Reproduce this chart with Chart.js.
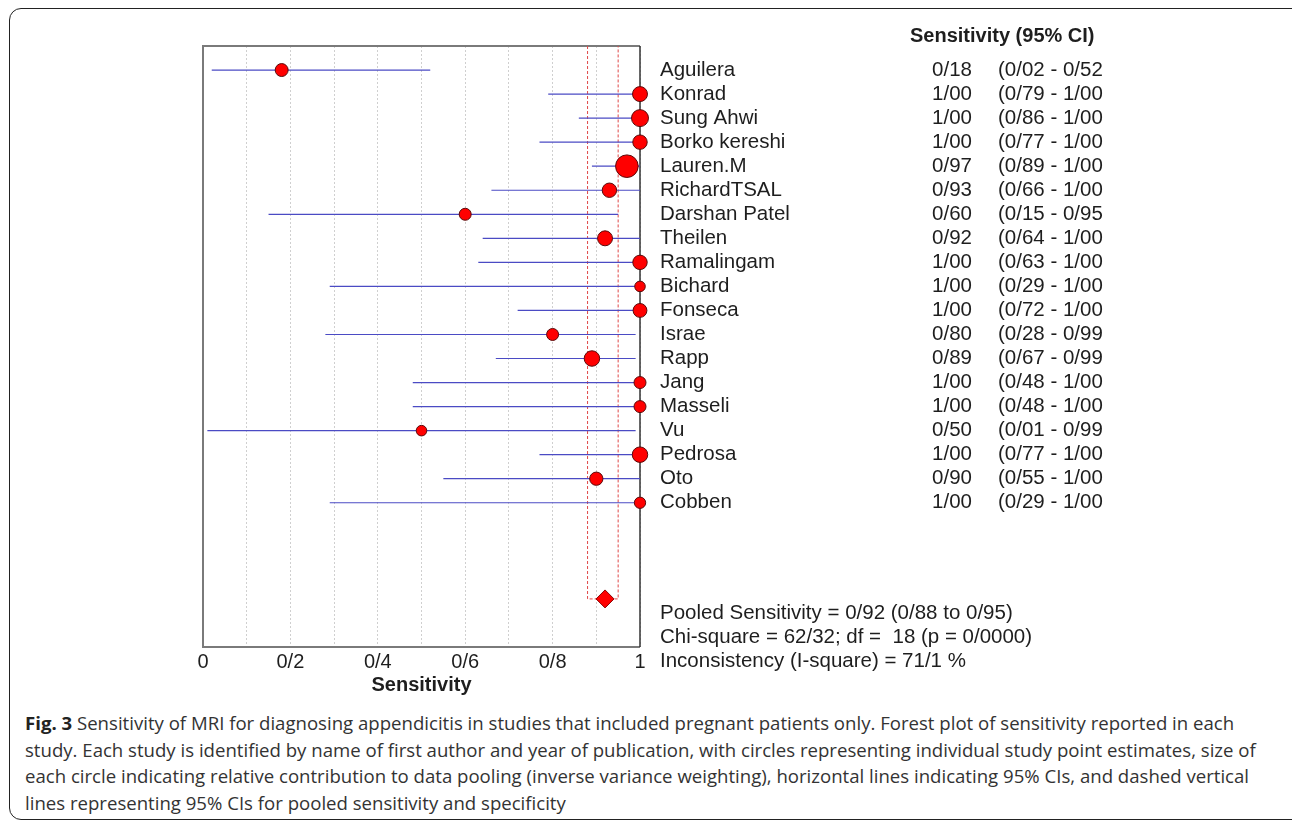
<!DOCTYPE html>
<html>
<head>
<meta charset="utf-8">
<script src="https://cdn.jsdelivr.net/npm/chart.js@4/dist/chart.umd.min.js"></script>
<style>
  html, body { margin: 0; padding: 0; background: #fff; }
  #wrap { position: relative; width: 1292px; height: 822px; overflow: hidden; }
  #frame {
    position: absolute; left: 9px; top: 8px; width: 1300px; height: 810px;
    border: 1.5px solid #222; border-radius: 12px;
  }
  #plot { position: absolute; left: 0; top: 0; width: 1292px; height: 700px; }
  #caption {
    position: absolute; left: 25px; top: 710px;
    font-family: "Open Sans", sans-serif; font-size: 18.6px; line-height: 26.5px;
    color: #333; white-space: nowrap;
  }
  #caption b { color: #222; }
</style>
</head>
<body>
<div id="wrap">
  <div id="frame"></div>
  <div id="plot"><canvas id="forest"></canvas></div>
  <div id="caption">
    <b>Fig. 3</b> Sensitivity of MRI for diagnosing appendicitis in studies that included pregnant patients only. Forest plot of sensitivity reported in each<br>
    study. Each study is identified by name of first author and year of publication, with circles representing individual study point estimates, size of<br>
    each circle indicating relative contribution to data pooling (inverse variance weighting), horizontal lines indicating 95% CIs, and dashed vertical<br>
    lines representing 95% CIs for pooled sensitivity and specificity
  </div>
</div>
<script>
// studies, top to bottom
const studies = ["Aguilera", "Konrad", "Sung Ahwi", "Borko kereshi", "Lauren.M", "RichardTSAL",
  "Darshan Patel", "Theilen", "Ramalingam", "Bichard", "Fonseca", "Israe", "Rapp", "Jang",
  "Masseli", "Vu", "Pedrosa", "Oto", "Cobben"];
const sensitivity = [0.18, 1.00, 1.00, 1.00, 0.97, 0.93, 0.60, 0.92, 1.00, 1.00, 1.00, 0.80, 0.89, 1.00, 1.00, 0.50, 1.00, 0.90, 1.00];
const ciLow  = [0.02, 0.79, 0.86, 0.77, 0.89, 0.66, 0.15, 0.64, 0.63, 0.29, 0.72, 0.28, 0.67, 0.48, 0.48, 0.01, 0.77, 0.55, 0.29];
const ciHigh = [0.52, 1.00, 1.00, 1.00, 1.00, 1.00, 0.95, 1.00, 1.00, 1.00, 1.00, 0.99, 0.99, 1.00, 1.00, 0.99, 1.00, 1.00, 1.00];
// relative weight of each study (inverse variance)
const weights = [10.5, 14, 18, 13, 32, 13, 9, 14, 13, 7, 12, 9, 15, 9, 9, 7, 15, 11, 8];

const pooled = [0.92, 0.88, 0.95]; // estimate, low, high
const chiSquare = 62.32, df = 18, pValue = 0.0000, iSquare = 71.1;
const xTickLabels = ["0", "0/2", "0/4", "0/6", "0/8", "1"];

const pooledRow = 22;
const fmt = (v, d = 2) => v.toFixed(d).replace(".", "/");

const FONT = "'Liberation Sans', Arial, sans-serif";

// one short line per confidence interval
const ciSets = studies.map((s, i) => ({
  type: "line",
  data: [{ x: ciLow[i], y: i }, { x: ciHigh[i], y: i }],
  borderColor: "#4b4bc4",
  borderWidth: 1.2,
  pointRadius: 0,
  order: 2
}));

// box round the plot, then the text columns on the right
const tablePlugin = {
  id: "table",
  beforeDatasetsDraw(chart) {
    const { ctx, chartArea: a } = chart;
    ctx.save();
    ctx.strokeStyle = "#7a7a7a";
    ctx.lineWidth = 2;
    ctx.beginPath();
    ctx.moveTo(a.right, a.top);
    ctx.lineTo(a.left, a.top);
    ctx.lineTo(a.left, a.bottom);
    ctx.lineTo(a.right, a.bottom);
    ctx.stroke();
    ctx.strokeStyle = "#333";
    ctx.lineWidth = 1.5;
    ctx.beginPath();
    ctx.moveTo(a.right, a.top);
    ctx.lineTo(a.right, a.bottom);
    ctx.stroke();
    ctx.restore();
  },
  afterDraw(chart) {
    const { ctx } = chart;
    const y = chart.scales.y;
    ctx.save();
    ctx.fillStyle = "#1e1e1e";
    ctx.textBaseline = "middle";
    ctx.font = "bold 20px " + FONT;
    ctx.textAlign = "left";
    ctx.fillText("Sensitivity (95% CI)", 910, 36);
    ctx.font = "20.5px " + FONT;
    studies.forEach((name, i) => {
      const py = y.getPixelForValue(i);
      ctx.textAlign = "left";
      ctx.fillText(name, 660, py);
      ctx.textAlign = "right";
      ctx.fillText(fmt(sensitivity[i]), 972, py);
      ctx.textAlign = "left";
      ctx.fillText("(" + fmt(ciLow[i]) + " - " + fmt(ciHigh[i]), 998, py);
    });
    ctx.textAlign = "left";
    const fy = y.getPixelForValue(pooledRow) + 14;
    ctx.fillText("Pooled Sensitivity = " + fmt(pooled[0]) + " (" + fmt(pooled[1]) + " to " + fmt(pooled[2]) + ")", 660, fy);
    ctx.fillText("Chi-square = " + fmt(chiSquare) + "; df =  " + df + " (p = " + fmt(pValue, 4) + ")", 660, fy + 24);
    ctx.fillText("Inconsistency (I-square) = " + fmt(iSquare, 1) + " %", 660, fy + 48);
    ctx.restore();
  }
};

new Chart("forest", {
  data: {
    datasets: [
      {
        type: "scatter",
        data: sensitivity.map((v, i) => ({ x: v, y: i })),
        pointRadius: weights.map(w => 2 * Math.sqrt(w)),
        pointBackgroundColor: "#ff0000",
        pointBorderColor: "#5a0a0a",
        pointBorderWidth: 1,
        clip: false,
        order: 0
      },
      {
        type: "scatter",
        data: [{ x: pooled[0], y: pooledRow }],
        pointStyle: "rectRot",
        pointRadius: 9,
        pointBackgroundColor: "#ff0000",
        pointBorderColor: "#8a0000",
        pointBorderWidth: 1,
        clip: false,
        order: 0
      },
      {
        type: "line",
        data: [
          { x: pooled[1], y: -1 }, { x: pooled[1], y: pooledRow },
          { x: pooled[2], y: pooledRow }, { x: pooled[2], y: -1 }
        ],
        borderColor: "#e04848",
        borderWidth: 1,
        borderDash: [3, 2],
        pointRadius: 0,
        order: 3
      },
      ...ciSets
    ]
  },
  options: {
    responsive: true,
    maintainAspectRatio: false,
    animation: false,
    events: [],
    layout: { padding: { left: 203, right: 652, top: 46, bottom: 3 } },
    plugins: { legend: { display: false }, tooltip: { enabled: false } },
    scales: {
      x: {
        type: "linear",
        min: 0,
        max: 1,
        afterFit(scale) { scale.height = 50; },
        ticks: {
          stepSize: 0.1,
          autoSkip: false,
          maxRotation: 0,
          padding: 3,
          color: "#1e1e1e",
          font: { family: FONT, size: 20 },
          callback: (v, i) => (i % 2 === 0 ? xTickLabels[i / 2] : "")
        },
        grid: { color: "#cfcfcf", lineWidth: 1, drawTicks: false },
        border: { display: false, dash: [2, 2] },
        title: {
          display: true,
          text: "Sensitivity",
          color: "#1e1e1e",
          font: { family: FONT, size: 20, weight: "bold" },
          padding: { top: 0, bottom: 0 }
        }
      },
      y: {
        type: "linear",
        min: -1,
        max: 24,
        reverse: true,
        display: false
      }
    }
  },
  plugins: [tablePlugin]
});
</script>
</body>
</html>
